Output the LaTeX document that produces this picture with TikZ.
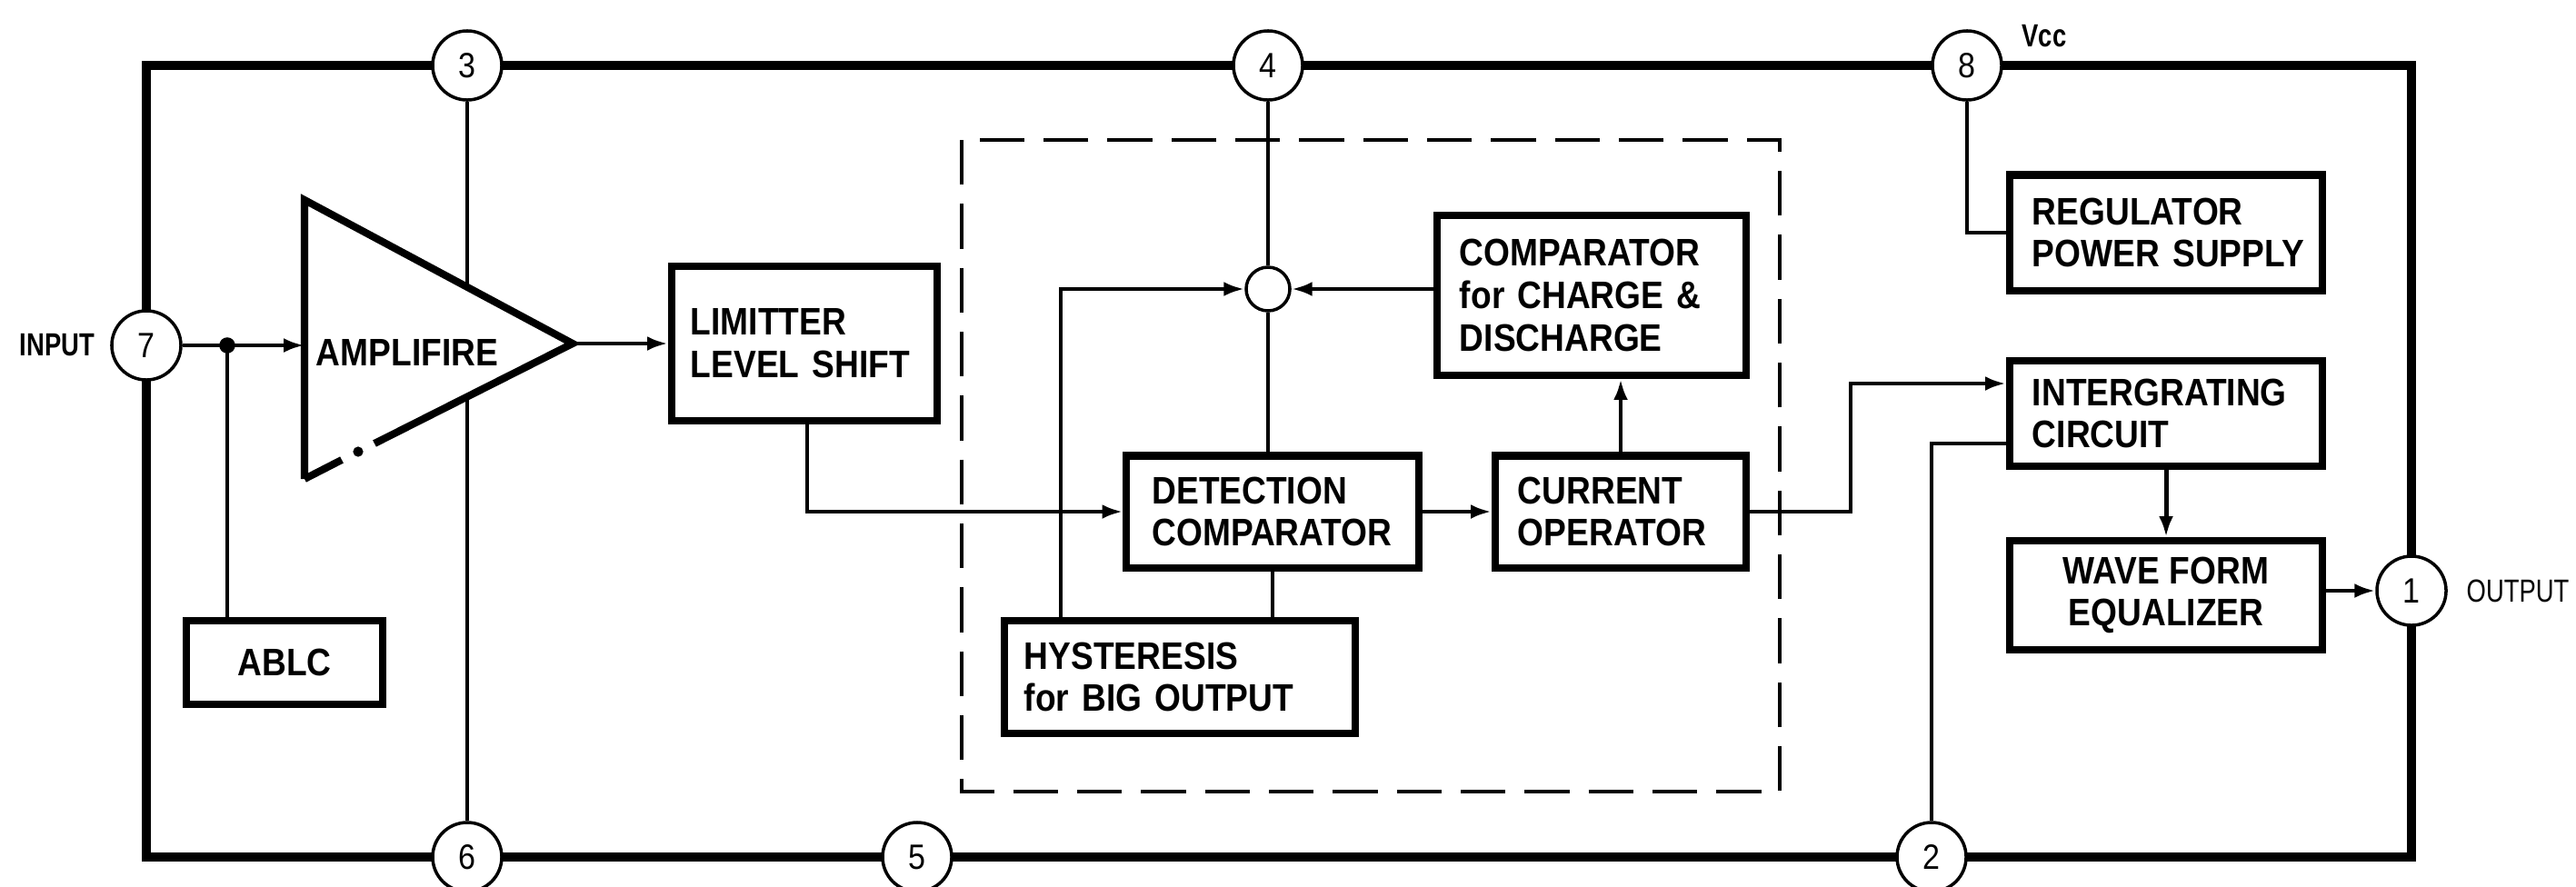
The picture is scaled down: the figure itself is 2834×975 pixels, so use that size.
\documentclass[tikz,border=0pt]{standalone}
\usepackage{fontspec}
\setmainfont{Liberation Sans}
\newfontfamily\blkfont{Liberation Sans}[FakeStretch=0.88]
\newfontfamily\lblfont{Liberation Sans}[FakeStretch=0.78]
\usetikzlibrary{arrows.meta}
\begin{document}
\begin{tikzpicture}[x=0.01cm,y=-0.01cm,
  frame/.style={line width=2.8pt},
  blk/.style={draw, line width=2.3pt, fill=white, inner xsep=0pt, inner ysep=2pt,
    font=\blkfont\bfseries\fontsize{12}{13.3}\selectfont, align=left,
    execute at begin node={\hyphenpenalty=10000\exhyphenpenalty=10000}},
  pinc/.style={circle, draw, fill=white, line width=1pt, minimum size=0.76cm, inner sep=0pt,
    font=\blkfont\fontsize{11}{12}\selectfont},
  sig/.style={line width=1.4pt, -{Latex[length=6.5pt,width=4.5pt]}},
  wire/.style={line width=1pt},
  dashbox/.style={line width=1.4pt, dash pattern=on 14pt off 6pt},
  lbl/.style={inner sep=0pt, font=\lblfont\fontsize{10}{10}\selectfont}]
\useasboundingbox (0,0) rectangle (2834,975);
% outer frame
\coordinate (ftl) at (161,72);
\coordinate (fbr) at (2653,943);
\draw[frame] (ftl) rectangle (fbr);
% dashed block
\draw[dashbox] (1058,154) rectangle (1958,871);
% pins
\node[pinc] (p3) at (514,72) {3};
\node[pinc] (p4) at (1395,72) {4};
\node[pinc] (p8) at (2164,72) {8};
\node[pinc] (p7) at (161,380) {7};
\node[pinc] (p6) at (514,943) {6};
\node[pinc] (p5) at (1009,943) {5};
\node[pinc] (p2) at (2125,943) {2};
\node[pinc] (p1) at (2653,650) {1};
% pin 3 - pin 6 line (behind amplifier)
\draw[wire] (p3) -- (p6);
% amplifier triangle
\coordinate (atl) at (335,220);
\coordinate (atip) at (630,378);
\coordinate (abl) at (335,527);
\fill[white] (atl) -- (atip) -- (abl) -- cycle;
\draw[line width=2.3pt, line join=miter] (abl) -- (atl) -- (atip) -- (412,488);
\draw[line width=2.3pt] (376,506) -- (abl);
\fill (394,497) circle (1.6pt);
\node[inner sep=0pt, font=\blkfont\bfseries\fontsize{12}{13.3}\selectfont] (amp) at (448,388) {AMPLIFIRE};
% input
\coordinate (jn) at (250,380);
\draw[line width=1.4pt] (p7) -- (jn);
\fill (jn) circle (2.5pt);
\draw[sig] (jn) -- (atl |- jn);
\node[blk, align=center, minimum width=2.15cm, minimum height=0.92cm] (ablc) at (313,729) {ABLC};
\draw[wire] (jn) -- (jn |- ablc.north);
% limiter
\node[blk, minimum width=2.92cm, minimum height=1.70cm, text width=2.50cm] (lim) at (885,378) {LIMITTER\\LEVEL~SHIFT};
\draw[sig] (atip) -- (lim.west);
% detection comparator
\node[blk, minimum width=3.21cm, minimum height=1.23cm, text width=2.65cm] (det) at (1400,563) {DETECTION\\COMPARATOR};
\coordinate (lk) at (888,563);
\draw[sig] (lim.south -| lk) -- (lk) -- (det.west);
% current operator
\node[blk, minimum width=2.76cm, minimum height=1.23cm, text width=2.26cm] (cur) at (1783,563) {CURRENT\\OPERATOR};
\draw[sig] (det.east) -- (cur.west);
% comparator for charge & discharge
\node[blk, minimum width=3.40cm, minimum height=1.76cm, text width=2.90cm] (cmp) at (1751,325) {COMPARATOR\\for~CHARGE~\&\\DISCHARGE};
\draw[sig] (cur.north) -- (cur.north |- cmp.south);
% summing circle
\node[circle, draw, line width=1pt, minimum size=0.48cm, inner sep=0pt] (sum) at (1395,318) {};
\draw[sig] (cmp.west |- sum) -- (sum.east);
\draw[wire] (p4) -- (sum);
\draw[wire] (sum) -- (sum |- det.north);
% hysteresis
\node[blk, minimum width=3.86cm, minimum height=1.24cm, text width=3.42cm] (hys) at (1298,745) {HYSTERESIS\\for~BIG~OUTPUT};
\coordinate (hk) at (1167,318);
\draw[sig] (hys.north -| hk) -- (hk) -- (sum.west);
\draw[wire] (det.south) -- (det.south |- hys.north);
% regulator
\node[blk, minimum width=3.44cm, minimum height=1.27cm, text width=2.94cm] (reg) at (2383,256) {REGULATOR\\POWER~SUPPLY};
\draw[wire] (p8) -- (p8 |- reg.west) -- (reg.west);
% integrating circuit
\node[blk, minimum width=3.44cm, minimum height=1.16cm, text width=2.94cm] (int) at (2383,455) {INTERGRATING\\CIRCUIT};
\coordinate (ck) at (2036,563);
\coordinate (ck2) at (2036,422);
\draw[sig] (cur.east) -- (ck) -- (ck2) -- (int.west |- ck2);
\coordinate (ik) at (2125,488);
\draw[wire] (int.west |- ik) -- (ik) -- (p2);
% waveform equalizer
\node[blk, align=center, minimum width=3.44cm, minimum height=1.20cm] (wav) at (2383,655) {WAVE~FORM\\EQUALIZER};
\draw[sig] (int.south) -- (wav.north);
\draw[sig] (wav.east |- p1) -- (p1);
% labels
\node[lbl, font=\lblfont\bfseries\fontsize{10}{10}\selectfont] (inl) at (63,380) {INPUT};
\node[lbl] (outl) at (2770,650) {OUTPUT};
\node[lbl, font=\lblfont\bfseries\fontsize{10}{10}\selectfont] (vcc) at (2249,40) {Vcc};
\end{tikzpicture}
\end{document}
